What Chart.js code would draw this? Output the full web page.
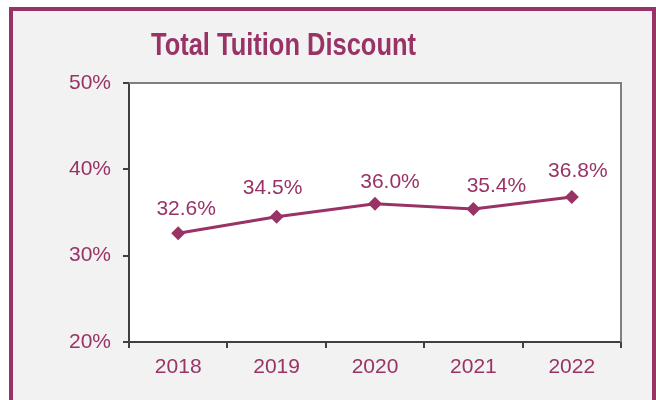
<!DOCTYPE html>
<html>
<head>
<meta charset="utf-8">
<script src="https://cdn.jsdelivr.net/npm/chart.js@4/dist/chart.umd.min.js"></script>
<style>
  html, body { margin: 0; padding: 0; background: #ffffff; }
  #wrap { position: relative; width: 656px; height: 400px; overflow: hidden; }
  #c { position: absolute; left: 0; top: 0; }
  #title {
    position: absolute; left: 0; width: 566px; top: 24px;
    text-align: center; color: #993366;
    font-family: "Liberation Sans", Arial, sans-serif;
    font-weight: bold; font-size: 32px; line-height: 40px;
    white-space: nowrap;
  }
  #title span { display: inline-block; transform-origin: 50% 50%; }
</style>
</head>
<body>
<div id="wrap">
  <canvas id="c" width="656" height="400"></canvas>
  <div id="title"><span id="titleText">Total Tuition Discount</span></div>
</div>
<script>
const categories = ["2018", "2019", "2020", "2021", "2022"];
const discountValues = [32.6, 34.5, 36.0, 35.4, 36.8];
const yTickValues = [20, 30, 40, 50];

const MAROON = "#993366";
const FONT = "'Liberation Sans', Arial, sans-serif";

// condense the title to match the narrow bold face of the original
(function () {
  const s = document.getElementById("titleText");
  const w = s.getBoundingClientRect().width;
  if (w > 0) s.style.transform = "scaleX(" + (265 / w) + ")";
})();

const framePlugin = {
  id: "frame",
  beforeDraw(chart) {
    const ctx = chart.ctx;
    const a = chart.chartArea;
    ctx.save();
    ctx.fillStyle = "#ffffff";
    ctx.fillRect(0, 0, chart.width, chart.height);
    ctx.fillStyle = "#f2f2f2";
    ctx.fillRect(11, 9, 643, 420);
    ctx.strokeStyle = MAROON;
    ctx.lineWidth = 4;
    ctx.strokeRect(11, 9, 643, 420);
    ctx.fillStyle = "#ffffff";
    ctx.fillRect(a.left, a.top, a.right - a.left, a.bottom - a.top);
    ctx.restore();
  },
  beforeDatasetsDraw(chart) {
    const ctx = chart.ctx;
    const a = chart.chartArea;
    ctx.save();
    ctx.strokeStyle = "#808080";
    ctx.lineWidth = 2;
    ctx.beginPath();
    ctx.moveTo(a.left, a.top);
    ctx.lineTo(a.right, a.top);
    ctx.lineTo(a.right, a.bottom);
    ctx.stroke();
    ctx.restore();
  }
};

const labelPlugin = {
  id: "valueLabels",
  afterDatasetsDraw(chart, args, opts) {
    const ctx = chart.ctx;
    const meta = chart.getDatasetMeta(0);
    const data = chart.data.datasets[0].data;
    ctx.save();
    ctx.fillStyle = MAROON;
    ctx.font = "21px " + FONT;
    ctx.textAlign = "center";
    ctx.textBaseline = "middle";
    meta.data.forEach((pt, i) => {
      const off = opts.offsets[i] || [0, -26];
      ctx.fillText(data[i].toFixed(1) + "%", pt.x + off[0], pt.y + off[1]);
    });
    ctx.restore();
  }
};

new Chart(document.getElementById("c"), {
  type: "line",
  data: {
    labels: categories,
    datasets: [{
      data: discountValues,
      borderColor: MAROON,
      borderWidth: 3,
      backgroundColor: MAROON,
      pointStyle: "rectRot",
      pointRadius: 7,
      pointHoverRadius: 7,
      pointBackgroundColor: MAROON,
      pointBorderWidth: 0,
      tension: 0,
      fill: false
    }]
  },
  options: {
    responsive: false,
    animation: false,
    events: [],
    layout: { padding: { left: 0, top: 83, right: 35, bottom: 18 } },
    plugins: {
      legend: { display: false },
      title: { display: false },
      tooltip: { enabled: false },
      valueLabels: { offsets: [[8, -24], [-4, -28.5], [15, -22], [23, -23], [6, -25.5]] }
    },
    scales: {
      x: {
        type: "category",
        offset: true,
        grid: { offset: true, drawOnChartArea: false, drawTicks: true, tickLength: 6, color: "#404040", lineWidth: 2 },
        border: { display: true, color: "#404040", width: 2 },
        ticks: { color: MAROON, font: { family: FONT, size: 21 }, padding: 7, maxRotation: 0 },
        afterFit(scale) { scale.height = 40; }
      },
      y: {
        min: 20,
        max: 50,
        afterBuildTicks(scale) { scale.ticks = yTickValues.map(v => ({ value: v })); },
        grid: { drawOnChartArea: false, drawTicks: true, tickLength: 6, color: "#404040", lineWidth: 2 },
        border: { display: true, color: "#404040", width: 2 },
        ticks: { color: MAROON, font: { family: FONT, size: 21 }, padding: 12, callback: v => v + "%" },
        afterFit(scale) { scale.width = 129; }
      }
    }
  },
  plugins: [framePlugin, labelPlugin]
});
</script>
</body>
</html>
